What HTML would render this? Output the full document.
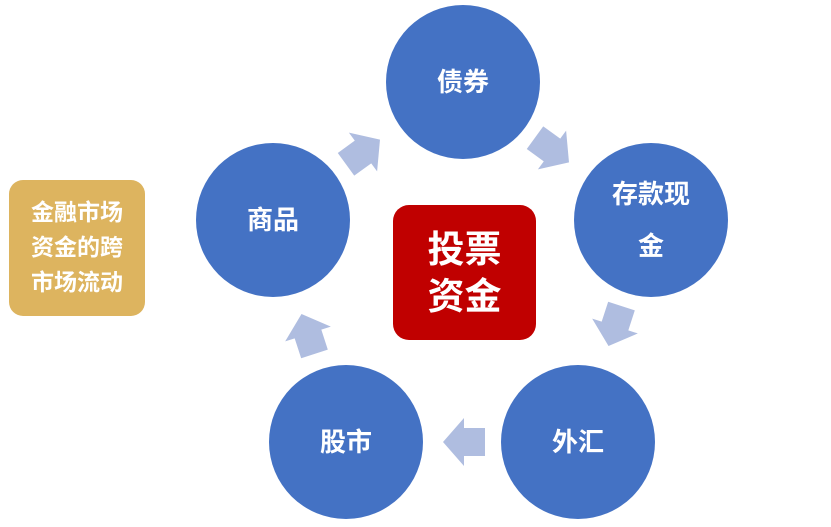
<!DOCTYPE html>
<html><head><meta charset="utf-8"><style>
body{margin:0;width:831px;height:527px;background:#fff;overflow:hidden;position:relative;font-family:"Liberation Sans","Noto Sans CJK SC",sans-serif;font-weight:bold}
.c{position:absolute;width:154px;height:154px;border-radius:50%;background:#4472c4;color:#fff;font-size:26px;display:flex;align-items:center;justify-content:center;text-align:center;line-height:52px}
</style></head><body>
<div style="position:absolute;left:9px;top:180px;width:136px;height:136px;border-radius:14px;background:#ddb45f;color:#fff;font-size:23px;line-height:35px;text-align:center;padding-top:15px;box-sizing:border-box">金融市场<br>资金的跨<br>市场流动</div>
<div class="c" style="left:386px;top:5px">债券</div>
<div class="c" style="left:574px;top:143px">存款现<br>金</div>
<div class="c" style="left:501px;top:365px">外汇</div>
<div class="c" style="left:269px;top:365px">股市</div>
<div class="c" style="left:196px;top:143px">商品</div>
<div style="position:absolute;left:393px;top:205px;width:143px;height:135px;border-radius:16px;background:#c00000;color:#fff;font-size:37px;line-height:47px;text-align:center;padding-top:21px;box-sizing:border-box">投票<br>资金</div>
<svg width="831" height="527" style="position:absolute;left:0;top:0">
<defs><polygon id="a" points="-21,-14 0,-14 0,-24 21,0 0,24 0,14 -21,14" fill="#afbde0"/></defs>
<use href="#a" transform="translate(363,152) rotate(-36)"/>
<use href="#a" transform="translate(552,150) rotate(36)"/>
<use href="#a" transform="translate(615,326) rotate(108)"/>
<use href="#a" transform="translate(464,442) rotate(180)"/>
<use href="#a" transform="translate(308,334) rotate(-108)"/>
</svg>
</body></html>
